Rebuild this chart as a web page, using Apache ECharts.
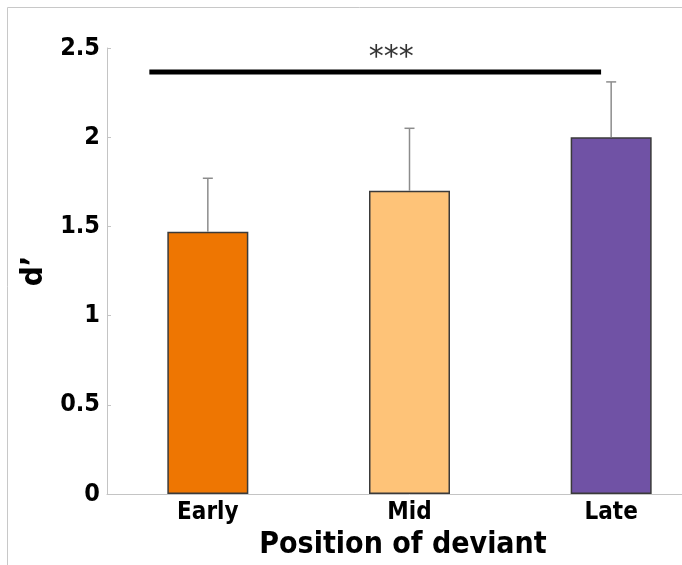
<!DOCTYPE html>
<html>
<head>
<meta charset="utf-8">
<script src="https://cdn.jsdelivr.net/npm/echarts@6/dist/echarts.min.js"></script>
<style>html,body{margin:0;padding:0;background:#fff;overflow:hidden;width:682px;height:565px;}#c{width:712px;height:565px;}</style>
</head>
<body>
<div id="c"></div>
<script>
var categories = ['Early', 'Mid', 'Late'];
var means = [1.47, 1.70, 2.00];
var errUpper = [1.77, 2.05, 2.31];
var barColors = ['#EE7602', '#FEC378', '#7052A5'];
var yTicks = [0, 0.5, 1, 1.5, 2, 2.5];
var sigLine = [[0.21, 2.365], [2.45, 2.365]];
var sigLabel = [[1.41, 2.445]];
var sigText = '***';

var FONT = '"DejaVu Sans Condensed", "DejaVu Sans", sans-serif';
var chart = echarts.init(document.getElementById('c'), null, {renderer: 'canvas'});

chart.setOption({
  animation: false,
  backgroundColor: '#fff',
  grid: {left: 107, top: 48, bottom: 67, right: 0, containLabel: false},
  graphic: [
    {type: 'line', shape: {x1: 7.5, y1: 7.5, x2: 712, y2: 7.5}, style: {stroke: '#c8c8c8', lineWidth: 1}},
    {type: 'line', shape: {x1: 7.5, y1: 7.5, x2: 7.5, y2: 565}, style: {stroke: '#c8c8c8', lineWidth: 1}}
  ],
  xAxis: [
    {
      type: 'category', data: categories,
      axisLine: {lineStyle: {color: '#c4c4c4', width: 1}},
      axisTick: {show: false},
      axisLabel: {color: '#000', fontFamily: FONT, fontWeight: 'bold', fontSize: 24, margin: 7},
      name: 'Position of deviant', nameLocation: 'middle', nameGap: 31,
      nameTextStyle: {color: '#000', fontFamily: FONT, fontWeight: 'bold', fontSize: 30, padding: [0, 13, 0, 0]}
    },
    {type: 'value', min: 0, max: 3, show: false, position: 'bottom'}
  ],
  yAxis: {
    type: 'value', min: 0, max: 2.5, interval: 0.5,
    axisLine: {show: true, lineStyle: {color: '#c4c4c4', width: 1}},
    axisTick: {show: true, inside: true, length: 4, lineStyle: {color: '#c4c4c4'}},
    splitLine: {show: false},
    axisLabel: {color: '#000', fontFamily: FONT, fontWeight: 'bold', fontSize: 25, margin: 7,
      formatter: function (v) { return yTicks.indexOf(v) >= 0 ? String(v) : ''; }},
    name: "d’", nameLocation: 'middle', nameGap: 56, nameRotate: 90,
    nameTextStyle: {color: '#000', fontFamily: FONT, fontWeight: 'bold', fontSize: 31}
  },
  series: [
    {
      type: 'bar', xAxisIndex: 0, barWidth: 81,
      data: means.map(function (v, i) {
        return {value: v, itemStyle: {color: barColors[i], borderColor: '#3a3a3a', borderWidth: 1.5}};
      }),
      z: 2
    },
    {
      type: 'custom', xAxisIndex: 0, z: 3,
      data: categories.map(function (c, i) { return [i, means[i], errUpper[i]]; }),
      renderItem: function (params, api) {
        var base = api.coord([api.value(0), api.value(1)]);
        var top = api.coord([api.value(0), api.value(2)]);
        var hw = 5;
        var st = {stroke: '#8c8c8c', lineWidth: 1.5};
        return {type: 'group', children: [
          {type: 'line', shape: {x1: base[0], y1: base[1], x2: top[0], y2: top[1]}, style: st},
          {type: 'line', shape: {x1: top[0] - hw, y1: top[1], x2: top[0] + hw, y2: top[1]}, style: st}
        ]};
      }
    },
    {
      type: 'line', xAxisIndex: 1, data: sigLine, symbol: 'none',
      lineStyle: {color: '#000', width: 5}, z: 4
    },
    {
      type: 'scatter', xAxisIndex: 1, data: sigLabel, symbolSize: 0,
      label: {show: true, position: 'inside', formatter: sigText, color: '#000',
        fontFamily: '"DejaVu Sans", sans-serif', fontSize: 30}
    }
  ]
});
</script>
</body>
</html>
